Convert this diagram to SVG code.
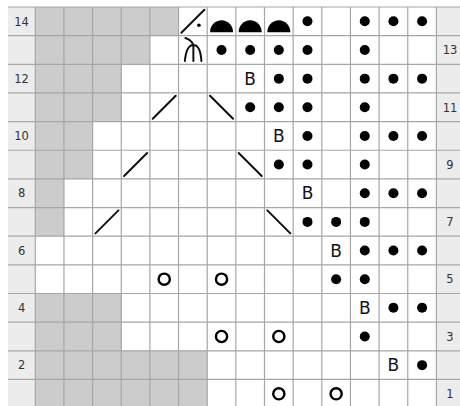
<svg xmlns="http://www.w3.org/2000/svg" xmlns:xlink="http://www.w3.org/1999/xlink" width="460" height="406" viewBox="0 0 460 406">
<style>
.lbl{font-family:"DejaVu Sans",sans-serif;font-size:11.5px;fill:#333;text-anchor:middle}
.b{font-family:"DejaVu Sans",sans-serif;font-size:17px;fill:#111;text-anchor:middle}
.gr{fill:#cccccc}
.grid{stroke:#a6a6a6;stroke-width:1.2;fill:none}
.ln{stroke:#111;stroke-width:2;fill:none;stroke-linecap:round}
</style>
<defs>
<circle id="dot" r="5" fill="#000"/>
<path id="dome" d="M-11.5,11 A11.5,12 0 0 1 11.5,11 Z" fill="#000"/>
<circle id="yo" r="5.6" fill="none" stroke="#000" stroke-width="2.4"/>
<line id="sl" class="ln" x1="-11.5" y1="11.5" x2="11.5" y2="-11.5"/>
<line id="bs" class="ln" x1="-11.5" y1="-11.5" x2="11.5" y2="11.5"/>
</defs>
<rect width="460" height="406" fill="#fff"/>
<g id="labels-bg">
<rect x="8" y="7" width="27.3" height="402" fill="#ececec"/>
<rect x="436.4" y="7" width="27.3" height="402" fill="#ececec"/>
</g>
<g id="gray-cells">
<rect class="gr" x="35.3" y="7" width="143.25" height="28.65"/>
<rect class="gr" x="35.3" y="35.65" width="114.6" height="28.65"/>
<rect class="gr" x="35.3" y="64.3" width="85.95" height="57.3"/>
<rect class="gr" x="35.3" y="121.6" width="57.3" height="57.3"/>
<rect class="gr" x="35.3" y="178.9" width="28.65" height="57.3"/>
<rect class="gr" x="35.3" y="293.5" width="85.95" height="57.3"/>
<rect class="gr" x="35.3" y="350.8" width="171.9" height="57.3"/>
</g>
<g id="grid" class="grid">
<path d="M8,7H464M8,35.65H464M8,64.3H464M8,92.95H464M8,121.6H464M8,150.25H464M8,178.9H464M8,207.55H464M8,236.2H464M8,264.85H464M8,293.5H464M8,322.15H464M8,350.8H464M8,379.45H464"/>
<path d="M35.3,7V408M63.95,7V408M92.6,7V408M121.25,7V408M149.9,7V408M178.55,7V408M207.2,7V408M235.85,7V408M264.5,7V408M293.15,7V408M321.8,7V408M350.45,7V408M379.1,7V408M407.75,7V408M436.4,7V408"/>
</g>
<g id="row-labels">
<text class="lbl" x="21.6" y="25.5">14</text>
<text class="lbl" x="21.6" y="82.8">12</text>
<text class="lbl" x="21.6" y="140.1">10</text>
<text class="lbl" x="21.6" y="197.4">8</text>
<text class="lbl" x="21.6" y="254.7">6</text>
<text class="lbl" x="21.6" y="312">4</text>
<text class="lbl" x="21.6" y="369.3">2</text>
<text class="lbl" x="450" y="54.2">13</text>
<text class="lbl" x="450" y="111.5">11</text>
<text class="lbl" x="450" y="168.8">9</text>
<text class="lbl" x="450" y="226.1">7</text>
<text class="lbl" x="450" y="283.4">5</text>
<text class="lbl" x="450" y="340.7">3</text>
<text class="lbl" x="450" y="398">1</text>
</g>
<g id="row14">
<use href="#sl" x="192.88" y="21.33"/>
<circle cx="198.9" cy="25.3" r="1.8" fill="#000"/>
<use href="#dome" x="221.53" y="21.33"/>
<use href="#dome" x="250.18" y="21.33"/>
<use href="#dome" x="278.83" y="21.33"/>
<use href="#dot" x="307.48" y="21.33"/>
<use href="#dot" x="364.78" y="21.33"/>
<use href="#dot" x="393.43" y="21.33"/>
<use href="#dot" x="422.08" y="21.33"/>
</g>
<g id="row13">
<path class="ln" transform="translate(192.88,49.98)" d="M-7.5,-12 Q-1.5,-10 0.5,-5 M-8,11 Q-6.5,-5 0.5,-5 Q7.5,-5 8.5,11 M0.5,-5 V11"/>
<use href="#dot" x="221.53" y="49.98"/>
<use href="#dot" x="250.18" y="49.98"/>
<use href="#dot" x="278.83" y="49.98"/>
<use href="#dot" x="307.48" y="49.98"/>
<use href="#dot" x="364.78" y="49.98"/>
</g>
<g id="row12">
<text class="b" x="250.18" y="84.8">B</text>
<use href="#dot" x="278.83" y="78.63"/>
<use href="#dot" x="307.48" y="78.63"/>
<use href="#dot" x="364.78" y="78.63"/>
<use href="#dot" x="393.43" y="78.63"/>
<use href="#dot" x="422.08" y="78.63"/>
</g>
<g id="row11">
<use href="#sl" x="164.23" y="107.28"/>
<use href="#bs" x="221.53" y="107.28"/>
<use href="#dot" x="250.18" y="107.28"/>
<use href="#dot" x="278.83" y="107.28"/>
<use href="#dot" x="307.48" y="107.28"/>
<use href="#dot" x="364.78" y="107.28"/>
</g>
<g id="row10">
<text class="b" x="278.83" y="142.1">B</text>
<use href="#dot" x="307.48" y="135.93"/>
<use href="#dot" x="364.78" y="135.93"/>
<use href="#dot" x="393.43" y="135.93"/>
<use href="#dot" x="422.08" y="135.93"/>
</g>
<g id="row9">
<use href="#sl" x="135.58" y="164.58"/>
<use href="#bs" x="250.18" y="164.58"/>
<use href="#dot" x="278.83" y="164.58"/>
<use href="#dot" x="307.48" y="164.58"/>
<use href="#dot" x="364.78" y="164.58"/>
</g>
<g id="row8">
<text class="b" x="307.48" y="199.4">B</text>
<use href="#dot" x="364.78" y="193.23"/>
<use href="#dot" x="393.43" y="193.23"/>
<use href="#dot" x="422.08" y="193.23"/>
</g>
<g id="row7">
<use href="#sl" x="106.93" y="221.88"/>
<use href="#bs" x="278.83" y="221.88"/>
<use href="#dot" x="307.48" y="221.88"/>
<use href="#dot" x="336.13" y="221.88"/>
<use href="#dot" x="364.78" y="221.88"/>
</g>
<g id="row6">
<text class="b" x="336.13" y="256.7">B</text>
<use href="#dot" x="364.78" y="250.53"/>
<use href="#dot" x="393.43" y="250.53"/>
<use href="#dot" x="422.08" y="250.53"/>
</g>
<g id="row5">
<use href="#yo" x="164.23" y="279.18"/>
<use href="#yo" x="221.53" y="279.18"/>
<use href="#dot" x="336.13" y="279.18"/>
<use href="#dot" x="364.78" y="279.18"/>
</g>
<g id="row4">
<text class="b" x="364.78" y="314">B</text>
<use href="#dot" x="393.43" y="307.83"/>
<use href="#dot" x="422.08" y="307.83"/>
</g>
<g id="row3">
<use href="#yo" x="221.53" y="336.48"/>
<use href="#yo" x="278.83" y="336.48"/>
<use href="#dot" x="364.78" y="336.48"/>
</g>
<g id="row2">
<text class="b" x="393.43" y="371.3">B</text>
<use href="#dot" x="422.08" y="365.13"/>
</g>
<g id="row1">
<use href="#yo" x="278.83" y="393.78"/>
<use href="#yo" x="336.13" y="393.78"/>
</g>
</svg>
